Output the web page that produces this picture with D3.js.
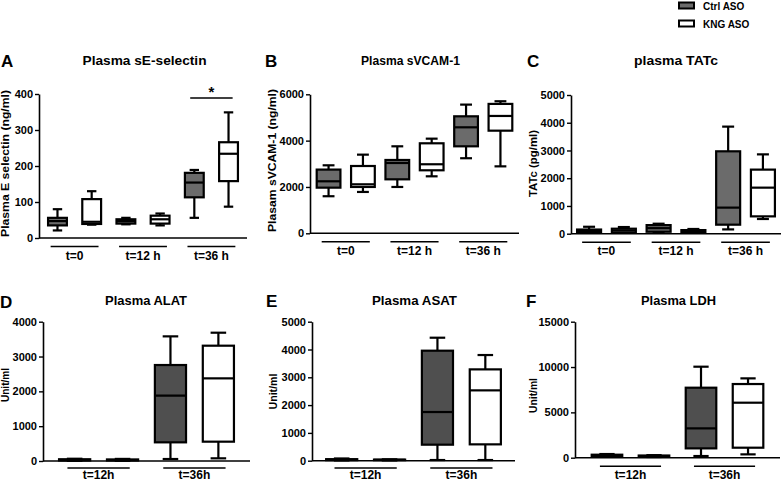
<!DOCTYPE html>
<html>
<head>
<meta charset="utf-8">
<script src="https://cdn.jsdelivr.net/npm/d3@7"></script>
<style>
html,body{margin:0;padding:0;background:#fff;}
svg{display:block;font-family:"Liberation Sans",Arial,Helvetica,sans-serif;}
</style>
</head>
<body>
<svg id="chart" width="781" height="482"></svg>
<script>
// ---------------- DATA ----------------
// each box: [min, Q1, median, Q3, max]
const series = ["Ctrl ASO", "KNG ASO"];

const groupsA = ["t=0", "t=12 h", "t=36 h"];
const ctrlA = [[21, 35, 47, 56, 80], [38, 40, 47, 52, 56], [56, 113, 154, 181, 189]];
const kngA  = [[37, 39, 45, 108, 130], [35, 40, 52, 62, 68], [87, 158, 234, 266, 349]];
const ticksA = [0, 100, 200, 300, 400];

const groupsB = ["t=0", "t=12 h", "t=36 h"];
const ctrlB = [[1600, 1970, 2245, 2750, 2935], [2000, 2330, 3035, 3165, 3755], [3240, 3755, 4575, 5050, 5555]];
const kngB  = [[1785, 2000, 2115, 2905, 3395], [2460, 2720, 2980, 3885, 4085], [2890, 4430, 5065, 5585, 5700]];
const ticksB = [0, 2000, 4000, 6000];

const groupsC = ["t=0", "t=12 h", "t=36 h"];
const ctrlC = [[40, 60, 110, 150, 250], [50, 70, 200, 310, 360], [155, 325, 940, 2970, 3860]];
const kngC  = [[30, 50, 120, 180, 240], [50, 60, 95, 130, 170], [530, 625, 1660, 2310, 2860]];
const ticksC = [0, 1000, 2000, 3000, 4000, 5000];

const groupsD = ["t=12h", "t=36h"];
const ctrlD = [[5, 15, 30, 50, 65], [57, 536, 1876, 2756, 3579]];
const kngD  = [[5, 15, 28, 45, 60], [77, 555, 2373, 3311, 3684]];
const ticksD = [0, 1000, 2000, 3000, 4000];

const groupsE = ["t=12h", "t=36h"];
const ctrlE = [[10, 20, 35, 55, 80], [24, 576, 1751, 3957, 4424]];
const kngE  = [[10, 20, 30, 40, 50], [24, 588, 2530, 3285, 3801]];
const ticksE = [0, 1000, 2000, 3000, 4000, 5000];

const groupsF = ["t=12h", "t=36h"];
const ctrlF = [[100, 150, 250, 330, 404], [184, 1029, 3235, 7720, 10037]];
const kngF  = [[80, 120, 180, 240, 280], [368, 1103, 6066, 8125, 8750]];
const ticksF = [0, 5000, 10000, 15000];

// ---------------- LAYOUT ----------------
const panels = [
  {letter:"A", title:"Plasma sE-selectin", ylab:"Plasma E selectin (ng/ml)", groups:groupsA, ctrl:ctrlA, kng:kngA, ticks:ticksA,
   x0:39, x1:247, y0:238, yTop:94, pad:0.04, boxFrac:0.55, lineHalf:0.7, fill:"#6b6b6b",
   lx:1, ly:67, tx:144.5, ty:65, tl:124, ylx:5, yly:163.5, yll:147, sig:2},
  {letter:"B", title:"Plasma sVCAM-1", ylab:"Plasam sVCAM-1 (ng/ml)", groups:groupsB, ctrl:ctrlB, kng:kngB, ticks:ticksB,
   x0:310, x1:519, y0:233.3, yTop:94.3, pad:0.04, boxFrac:0.69, lineHalf:0.7, fill:"#6b6b6b",
   lx:265, ly:67, tx:410.5, ty:65, tl:99, ylx:272, yly:160.5, yll:143},
  {letter:"C", title:"plasma TATc", ylab:"TATc (pg/ml)", groups:groupsC, ctrl:ctrlC, kng:kngC, ticks:ticksC,
   x0:571, x1:781, y0:233.7, yTop:95, pad:0.02, boxFrac:0.69, lineHalf:0.7, fill:"#6b6b6b",
   lx:527, ly:67, tx:676, ty:65, tl:84, ylx:533, yly:163.5, yll:67},
  {letter:"D", title:"Plasma ALAT", ylab:"Unit/ml", groups:groupsD, ctrl:ctrlD, kng:kngD, ticks:ticksD,
   x0:43, x1:250, y0:461, yTop:321.7, pad:0.16, boxFrac:0.65, lineHalf:0.65, fill:"#4f4f4f",
   lx:0, ly:308, tx:146, ty:305, tl:82, ylx:5, yly:385, yll:34},
  {letter:"E", title:"Plasma ASAT", ylab:"Unit/ml", groups:groupsE, ctrl:ctrlE, kng:kngE, ticks:ticksE,
   x0:312, x1:515, y0:460.7, yTop:321.7, pad:0.12, boxFrac:0.65, lineHalf:0.65, fill:"#4f4f4f",
   lx:266, ly:307, tx:414.5, ty:305, tl:85, ylx:273, yly:391.5, yll:36},
  {letter:"F", title:"Plasma LDH", ylab:"Unit/ml", groups:groupsF, ctrl:ctrlF, kng:kngF, ticks:ticksF,
   x0:575, x1:780, y0:457.7, yTop:321.7, pad:0.18, boxFrac:0.65, lineHalf:0.65, fill:"#4f4f4f",
   lx:526, ly:307, tx:678.5, ty:305, tl:75, ylx:533, yly:395.5, yll:35}
];

const svg = d3.select("#chart");
const SW = 2.2;

panels.forEach(p => {
  const g = svg.append("g");
  const maxV = p.ticks[p.ticks.length - 1];
  const y = d3.scaleLinear().domain([0, maxV]).range([p.y0, p.yTop]);
  const slots = [];
  p.groups.forEach((gr, i) => {
    slots.push({key: gr + "|c", group: i, stats: p.ctrl[i], fill: p.fill});
    slots.push({key: gr + "|k", group: i, stats: p.kng[i], fill: "#ffffff"});
  });
  const x = d3.scaleBand().domain(slots.map(s => s.key)).range([p.x0, p.x1])
    .paddingInner(0).paddingOuter(p.pad);
  const step = x.step();

  // y axis
  const ax = g.append("g").attr("transform", `translate(${p.x0},0)`)
    .call(d3.axisLeft(y).tickValues(p.ticks).tickSize(4).tickSizeOuter(0).tickPadding(2).tickFormat(d3.format("d")));
  ax.select(".domain").attr("stroke", "#000").attr("stroke-width", 1.6);
  ax.selectAll(".tick line").attr("stroke", "#000").attr("stroke-width", 1.4);
  ax.selectAll(".tick text").attr("fill", "#000").style("font-size", "11px").style("font-weight", "bold")
    .style("font-family", '"Liberation Sans",Arial,sans-serif');

  // x axis line
  g.append("line").attr("x1", p.x0).attr("x2", p.x1).attr("y1", p.y0).attr("y2", p.y0)
    .attr("stroke", "#000").attr("stroke-width", 1.6);

  // boxes
  slots.forEach(s => {
    const cx = x(s.key) + x.bandwidth() / 2;
    const bw = step * p.boxFrac;
    const [lo, q1, md, q3, hi] = s.stats;
    const bg = g.append("g").attr("stroke", "#000").attr("stroke-width", SW);
    bg.append("line").attr("x1", cx).attr("x2", cx).attr("y1", y(hi)).attr("y2", y(q3));
    bg.append("line").attr("x1", cx).attr("x2", cx).attr("y1", y(q1)).attr("y2", y(lo));
    bg.append("line").attr("x1", cx - bw / 4).attr("x2", cx + bw / 4).attr("y1", y(hi)).attr("y2", y(hi));
    bg.append("line").attr("x1", cx - bw / 4).attr("x2", cx + bw / 4).attr("y1", y(lo)).attr("y2", y(lo));
    bg.append("rect").attr("x", cx - bw / 2).attr("width", bw).attr("y", y(q3))
      .attr("height", Math.max(0, y(q1) - y(q3))).attr("fill", s.fill);
    bg.append("line").attr("x1", cx - bw / 2).attr("x2", cx + bw / 2).attr("y1", y(md)).attr("y2", y(md));
  });

  // group underlines and labels
  p.groups.forEach((gr, i) => {
    const c1 = x(gr + "|c") + x.bandwidth() / 2, c2 = x(gr + "|k") + x.bandwidth() / 2;
    const mid = (c1 + c2) / 2, hw = step * p.lineHalf;
    const ly = Math.min(p.y0 + 8.5, 468);
    g.append("line").attr("x1", mid - hw).attr("x2", mid + hw).attr("y1", ly).attr("y2", ly)
      .attr("stroke", "#000").attr("stroke-width", 1.4);
    g.append("text").attr("x", mid).attr("y", Math.min(p.y0 + 21.5, 479)).attr("text-anchor", "middle")
      .style("font-size", "12px").style("font-weight", "bold").text(gr);
    if (p.sig === i) {
      const sy = y(maxV) + 4;
      g.append("line").attr("x1", mid - step * 0.62).attr("x2", mid + step * 0.62).attr("y1", sy).attr("y2", sy)
        .attr("stroke", "#000").attr("stroke-width", 1.4);
      g.append("text").attr("x", mid).attr("y", sy - 1).attr("text-anchor", "middle")
        .style("font-size", "15px").style("font-weight", "bold").text("*");
    }
  });

  // titles, letter, y label
  g.append("text").attr("x", p.lx).attr("y", p.ly).style("font-size", "17px").style("font-weight", "bold").text(p.letter);
  g.append("text").attr("x", p.tx).attr("y", p.ty).attr("text-anchor", "middle")
    .attr("textLength", p.tl).attr("lengthAdjust", "spacingAndGlyphs")
    .style("font-size", "13px").style("font-weight", "bold").text(p.title);
  g.append("text").attr("transform", `translate(${p.ylx},${p.yly}) rotate(-90)`).attr("dy", "0.36em")
    .attr("text-anchor", "middle").attr("textLength", p.yll).attr("lengthAdjust", "spacingAndGlyphs")
    .style("font-size", p.ylab.length > 10 ? "11.5px" : "10.5px").style("font-weight", "bold").text(p.ylab);
});

// legend
const legFills = ["#6b6b6b", "#ffffff"];
const leg = svg.append("g");
series.forEach((s, i) => {
  leg.append("rect").attr("x", 679).attr("y", 2.5 + i * 18).attr("width", 15).attr("height", 6)
    .attr("fill", legFills[i]).attr("stroke", "#000").attr("stroke-width", 2);
  leg.append("text").attr("x", 703).attr("y", 9.5 + i * 18).style("font-size", "10px").style("font-weight", "bold").text(s);
});
</script>
</body>
</html>
